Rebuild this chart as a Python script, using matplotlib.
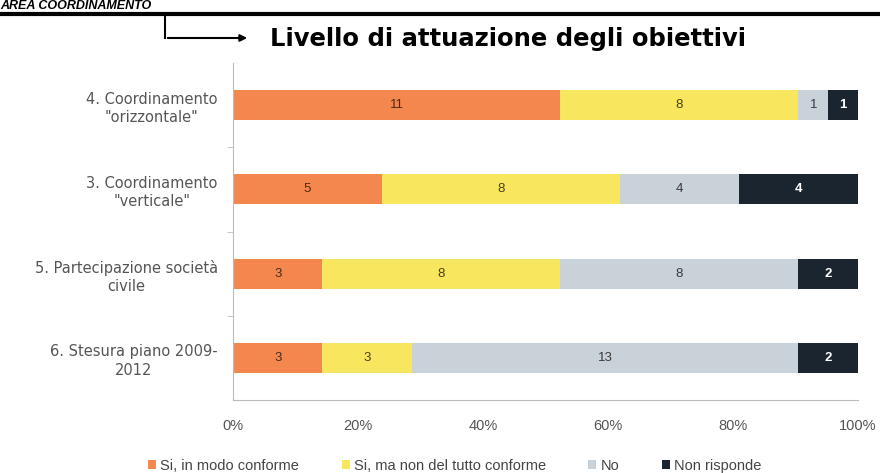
import matplotlib
matplotlib.use("Agg")
import matplotlib.pyplot as plt
import matplotlib.patches as mpatches
import numpy as np

plt.rcParams["font.family"] = ["Liberation Sans", "DejaVu Sans"]

categories = ['4. Coordinamento\n"orizzontale"', '3. Coordinamento\n"verticale"',
              '5. Partecipazione società\ncivile', '6. Stesura piano 2009-\n2012']
series_names = ["Si, in modo conforme", "Si, ma non del tutto conforme", "No", "Non risponde"]
conforme = [11, 5, 3, 3]
parziale = [8, 8, 8, 3]
no = [1, 4, 8, 13]
non_risponde = [1, 4, 2, 2]
xtick_labels = ["0%", "20%", "40%", "60%", "80%", "100%"]

colors = ["#F4874E", "#F7E65E", "#C9D1D9", "#1B2530"]
text_colors = ["#4a2a1a", "#4a4020", "#3a3a3a", "#ffffff"]

fig = plt.figure(figsize=(8.8, 4.73), dpi=100)
fig.patch.set_facecolor("white")
ax = fig.add_axes([233/880, 1-400/473, 625/880, 337/473])

data = np.array([conforme, parziale, no, non_risponde], dtype=float)
totals = data.sum(axis=0)
pct = data / totals * 100
y = np.arange(len(categories))
left = np.zeros(len(categories))
for i, name in enumerate(series_names):
    ax.barh(y, pct[i], left=left, height=0.355, color=colors[i], label=name)
    for j in range(len(categories)):
        ax.text(left[j] + pct[i][j] / 2, y[j], f"{int(data[i][j])}",
                ha="center", va="center", fontsize=9.5,
                color=text_colors[i], fontweight="bold" if i == 3 else "normal")
    left += pct[i]

ax.set_ylim(len(categories) - 0.5, -0.5)
ax.set_xlim(0, 100)
ax.set_yticks(y)
ax.set_yticklabels(categories, fontsize=10.5, color="#555555", linespacing=1.3,
                   family=["DejaVu Sans"])
for lab in ax.get_yticklabels():
    lab.set_multialignment("center")
ax.set_yticks(np.arange(0.5, len(categories) - 0.5, 1), minor=True)
ax.tick_params(axis="y", which="major", length=0, pad=11)
ax.tick_params(axis="y", which="minor", length=4, color="#bbbbbb")
ax.set_xticks(np.arange(0, 101, 20))
ax.set_xticklabels(xtick_labels, fontsize=10.5, color="#555555")
ax.tick_params(axis="x", length=0, pad=14)
for s in ["top", "right"]:
    ax.spines[s].set_visible(False)
ax.spines["left"].set_color("#bbbbbb")
ax.spines["bottom"].set_color("#bbbbbb")

ax.legend(loc="center", bbox_to_anchor=(0.355, -0.195), ncol=4, frameon=False,
          fontsize=10.5, handlelength=0.55, handleheight=0.55, handletextpad=0.3,
          columnspacing=2.9, labelcolor="#444444")

# page header
fig.text(0.0, 1 - 6/473, "AREA COORDINAMENTO", fontsize=9, fontweight="bold",
         fontstyle="italic", ha="left", va="center", color="black")
fig.add_artist(plt.Line2D([0, 1], [1 - 14/473, 1 - 14/473], color="black", lw=3))
fig.add_artist(plt.Line2D([165/880, 165/880], [1 - 16/473, 1 - 38/473], color="black", lw=1.5))
fig.add_artist(mpatches.FancyArrowPatch((165/880, 1 - 38/473), (250/880, 1 - 38/473),
               arrowstyle="-|>", mutation_scale=10, color="black", lw=1.5,
               transform=fig.transFigure))
fig.text(270/880, 1 - 39/473, "Livello di attuazione degli obiettivi", fontsize=17.5,
         fontweight="bold", ha="left", va="center", color="black",
         family=["DejaVu Sans"])

fig.savefig("out.png", dpi=100, facecolor="white")
